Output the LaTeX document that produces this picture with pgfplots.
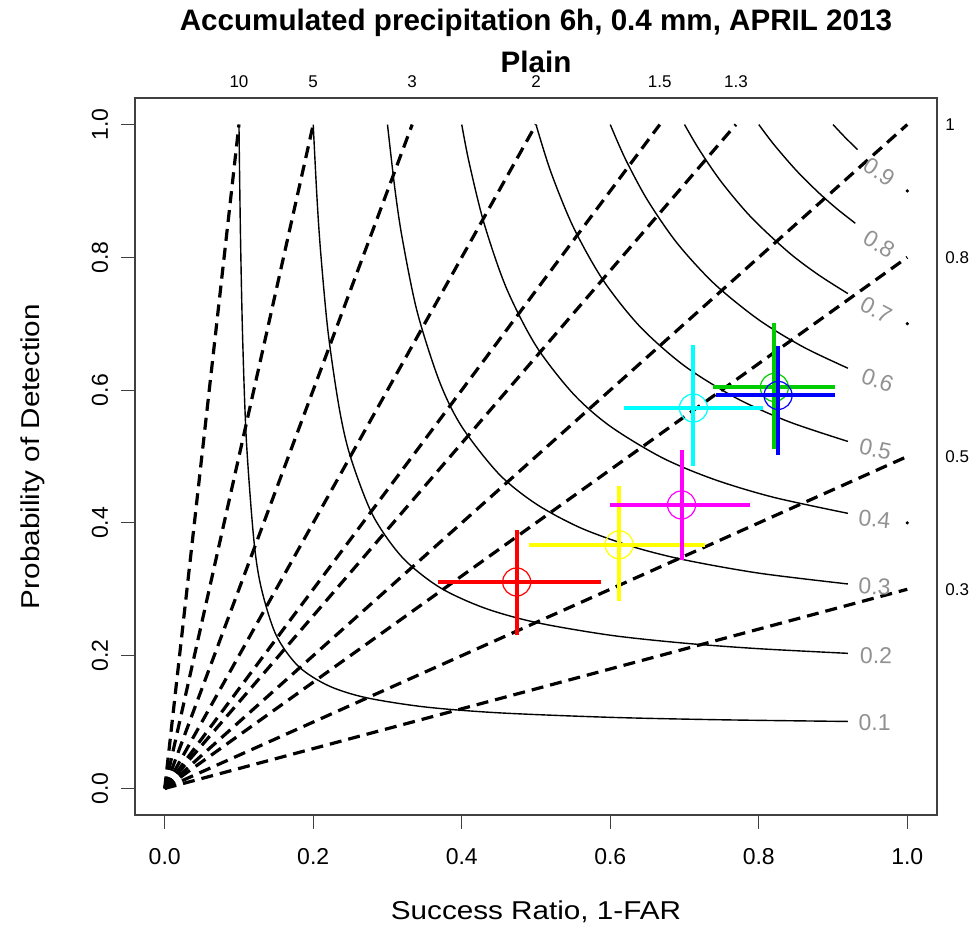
\documentclass[border=0pt]{standalone}
\usepackage{pgfplots}
\pgfplotsset{compat=1.18}
\usepackage{fontspec}
\setmainfont{Liberation Sans}
\newfontfamily\labfont[FakeStretch=1.15]{Liberation Sans}
\definecolor{csigray}{RGB}{145,145,145}
\definecolor{rgreen}{RGB}{0,205,0}
\definecolor{pmagenta}{RGB}{255,0,255}
\definecolor{pcyan}{RGB}{0,255,255}
\definecolor{pyellow}{RGB}{255,255,0}
\definecolor{pblue}{RGB}{0,0,255}
\definecolor{pred}{RGB}{255,0,0}
\begin{document}
\begin{tikzpicture}
\begin{axis}[
  scale only axis, width=401pt, height=358.5pt,
  xmin=-0.04, xmax=1.04, ymin=-0.04, ymax=1.04,
  axis line style={line width=0.8pt, black!75},
  xtick={0,0.2,0.4,0.6,0.8,1}, ytick={0,0.2,0.4,0.6,0.8,1},
  xticklabels={}, yticklabels={},
  tick align=outside, major tick length=7pt,
  xtick pos=bottom, ytick pos=left,
  tick style={black!75, line width=0.6pt},
  clip mode=individual,
  font=\fontsize{11.5}{13}\selectfont,
]
% bias lines
\addplot[black, line width=1.6pt, dash pattern=on 6pt off 3.5pt] coordinates {(0,0) (1,0.3)};
\addplot[black, line width=1.6pt, dash pattern=on 6pt off 3.5pt] coordinates {(0,0) (1,0.5)};
\addplot[black, line width=1.6pt, dash pattern=on 6pt off 3.5pt] coordinates {(0,0) (1,0.8)};
\addplot[black, line width=1.6pt, dash pattern=on 6pt off 3.5pt] coordinates {(0,0) (1,1)};
\addplot[black, line width=1.6pt, dash pattern=on 6pt off 3.5pt] coordinates {(0,0) (0.7692,1)};
\addplot[black, line width=1.6pt, dash pattern=on 6pt off 3.5pt] coordinates {(0,0) (0.6667,1)};
\addplot[black, line width=1.6pt, dash pattern=on 6pt off 3.5pt] coordinates {(0,0) (0.5,1)};
\addplot[black, line width=1.6pt, dash pattern=on 6pt off 3.5pt] coordinates {(0,0) (0.3333,1)};
\addplot[black, line width=1.6pt, dash pattern=on 6pt off 3.5pt] coordinates {(0,0) (0.2,1)};
\addplot[black, line width=1.6pt, dash pattern=on 6pt off 3.5pt] coordinates {(0,0) (0.1,1)};
% CSI curves
\addplot[black, line width=0.7pt, smooth] coordinates {(0.1,1.0) (0.102,0.836) (0.105,0.677) (0.11,0.524) (0.12,0.375) (0.13,0.302) (0.15,0.231) (0.18,0.184) (0.22,0.155) (0.27,0.137) (0.35,0.1228) (0.45,0.1139) (0.6,0.1071) (0.75,0.1034) (0.92,0.1009)};
\addplot[black, line width=0.7pt, smooth] coordinates {(0.2,1.0) (0.205,0.891) (0.21,0.808) (0.22,0.6875) (0.235,0.573) (0.25,0.5) (0.28,0.412) (0.32,0.348) (0.37,0.303) (0.43,0.272) (0.5,0.25) (0.6,0.2308) (0.7,0.2188) (0.8,0.2105) (0.92,0.2035)};
\addplot[black, line width=0.7pt, smooth] coordinates {(0.3,1.0) (0.31,0.903) (0.32,0.828) (0.34,0.718) (0.37,0.613) (0.4,0.545) (0.45,0.4737) (0.5,0.4286) (0.56,0.3925) (0.63,0.3642) (0.7,0.3443) (0.8,0.3243) (0.92,0.308)};
\addplot[black, line width=0.7pt, smooth] coordinates {(0.4,1.0) (0.41,0.9425) (0.43,0.8515) (0.46,0.754) (0.5,0.6667) (0.55,0.5946) (0.6,0.5455) (0.67,0.4981) (0.74,0.4654) (0.82,0.4385) (0.92,0.4144)};
\addplot[black, line width=0.7pt, smooth] coordinates {(0.5,1.0) (0.52,0.9286) (0.55,0.8462) (0.59,0.7662) (0.64,0.6957) (0.7,0.6364) (0.77,0.5878) (0.84,0.5526) (0.92,0.5227)};
\addplot[black, line width=0.7pt, smooth] coordinates {(0.6,1.0) (0.62,0.949) (0.65,0.8864) (0.69,0.8214) (0.74,0.7603) (0.8,0.7059) (0.86,0.6649) (0.92,0.633)};
\addplot[black, line width=0.7pt, smooth] coordinates {(0.7,1.0) (0.72,0.9618) (0.75,0.913) (0.79,0.86) (0.84,0.8077) (0.88,0.7739) (0.92,0.7454)};
\addplot[black, line width=0.7pt, smooth] coordinates {(0.8,1.0) (0.82,0.9704) (0.85,0.9315) (0.88,0.898) (0.905,0.8733) (0.93,0.8513)};
\addplot[black, line width=0.7pt, smooth] coordinates {(0.9,1.0) (0.915,0.9821) (0.933,0.9622)};
% small dots
\addplot[only marks, mark=*, mark size=0.6pt, black] coordinates {(1,0.9) (1,0.7) (1,0.4)};
% CSI labels
\node[csigray, inner sep=0.5pt, rotate=0] at (axis cs:0.956,0.099) {0.1};
\node[csigray, inner sep=0.5pt, rotate=-1] at (axis cs:0.958,0.2) {0.2};
\node[csigray, inner sep=0.5pt, rotate=-3] at (axis cs:0.956,0.304) {0.3};
\node[csigray, inner sep=0.5pt, rotate=-6] at (axis cs:0.956,0.406) {0.4};
\node[csigray, inner sep=0.5pt, rotate=-12] at (axis cs:0.957,0.511) {0.5};
\node[csigray, inner sep=0.5pt, rotate=-20] at (axis cs:0.96,0.615) {0.6};
\node[csigray, inner sep=0.5pt, rotate=-28] at (axis cs:0.958,0.721) {0.7};
\node[csigray, inner sep=0.5pt, rotate=-31] at (axis cs:0.962,0.82) {0.8};
\node[csigray, inner sep=0.5pt, rotate=-33] at (axis cs:0.962,0.929) {0.9};
% data points with error bars
\addplot[pred, only marks, mark=o, mark size=7pt, mark options={line width=0.6pt},
  error bars/.cd, x dir=both, y dir=both, x explicit, y explicit,
  error bar style={line width=2pt}, error mark=none]
  table[x=x, y=y, x error plus=xp, x error minus=xm, y error plus=yp, y error minus=ym] {
x y xp xm yp ym
0.474 0.311 0.114 0.106 0.079 0.080
};
\addplot[pyellow, only marks, mark=o, mark size=7pt, mark options={line width=0.6pt},
  error bars/.cd, x dir=both, y dir=both, x explicit, y explicit,
  error bar style={line width=2pt}, error mark=none]
  table[x=x, y=y, x error plus=xp, x error minus=xm, y error plus=yp, y error minus=ym] {
x y xp xm yp ym
0.612 0.367 0.115 0.121 0.089 0.085
};
\addplot[pmagenta, only marks, mark=o, mark size=7pt, mark options={line width=0.6pt},
  error bars/.cd, x dir=both, y dir=both, x explicit, y explicit,
  error bar style={line width=2pt}, error mark=none]
  table[x=x, y=y, x error plus=xp, x error minus=xm, y error plus=yp, y error minus=ym] {
x y xp xm yp ym
0.696 0.427 0.092 0.097 0.083 0.0825
};
\addplot[pcyan, only marks, mark=o, mark size=7pt, mark options={line width=0.6pt},
  error bars/.cd, x dir=both, y dir=both, x explicit, y explicit,
  error bar style={line width=2pt}, error mark=none]
  table[x=x, y=y, x error plus=xp, x error minus=xm, y error plus=yp, y error minus=ym] {
x y xp xm yp ym
0.712 0.573 0.094 0.093 0.095 0.088
};
\addplot[rgreen, only marks, mark=o, mark size=7pt, mark options={line width=0.6pt},
  error bars/.cd, x dir=both, y dir=both, x explicit, y explicit,
  error bar style={line width=2pt}, error mark=none]
  table[x=x, y=y, x error plus=xp, x error minus=xm, y error plus=yp, y error minus=ym] {
x y xp xm yp ym
0.821 0.604 0.081 0.082 0.097 0.092
};
\addplot[pblue, only marks, mark=o, mark size=7pt, mark options={line width=0.6pt},
  error bars/.cd, x dir=both, y dir=both, x explicit, y explicit,
  error bar style={line width=2pt}, error mark=none]
  table[x=x, y=y, x error plus=xp, x error minus=xm, y error plus=yp, y error minus=ym] {
x y xp xm yp ym
0.826 0.592 0.077 0.084 0.075 0.090
};
% tick labels
\node at ([yshift=-21pt]axis cs:0,-0.04) {0.0};
\node at ([yshift=-21pt]axis cs:0.2,-0.04) {0.2};
\node at ([yshift=-21pt]axis cs:0.4,-0.04) {0.4};
\node at ([yshift=-21pt]axis cs:0.6,-0.04) {0.6};
\node at ([yshift=-21pt]axis cs:0.8,-0.04) {0.8};
\node at ([yshift=-21pt]axis cs:1,-0.04) {1.0};
\node[rotate=90] at ([xshift=-17.5pt]axis cs:-0.04,0) {0.0};
\node[rotate=90] at ([xshift=-17.5pt]axis cs:-0.04,0.2) {0.2};
\node[rotate=90] at ([xshift=-17.5pt]axis cs:-0.04,0.4) {0.4};
\node[rotate=90] at ([xshift=-17.5pt]axis cs:-0.04,0.6) {0.6};
\node[rotate=90] at ([xshift=-17.5pt]axis cs:-0.04,0.8) {0.8};
\node[rotate=90] at ([xshift=-17.5pt]axis cs:-0.04,1) {1.0};
% axis labels
\node[font=\labfont\fontsize{12.9}{15}\selectfont] at ([yshift=-48.5pt]axis cs:0.5,-0.04) {Success Ratio, 1-FAR};
\node[font=\labfont\fontsize{12.9}{15}\selectfont, rotate=90] at ([xshift=-51pt]axis cs:-0.04,0.5) {Probability of Detection};
% title
\node[font=\fontsize{14.8}{17}\selectfont\bfseries, inner sep=0pt] at ([yshift=37.5pt]axis cs:0.5,1.04) {Accumulated precipitation 6h, 0.4 mm, APRIL 2013};
\node[font=\fontsize{14.8}{17}\selectfont\bfseries, inner sep=0pt] at ([yshift=18pt]axis cs:0.5,1.04) {Plain};
% bias labels top
\node[font=\fontsize{8.5}{10}\selectfont] at ([yshift=8pt]axis cs:0.1,1.04) {10};
\node[font=\fontsize{8.5}{10}\selectfont] at ([yshift=8pt]axis cs:0.2,1.04) {5};
\node[font=\fontsize{8.5}{10}\selectfont] at ([yshift=8pt]axis cs:0.3333,1.04) {3};
\node[font=\fontsize{8.5}{10}\selectfont] at ([yshift=8pt]axis cs:0.5,1.04) {2};
\node[font=\fontsize{8.5}{10}\selectfont] at ([yshift=8pt]axis cs:0.6667,1.04) {1.5};
\node[font=\fontsize{8.5}{10}\selectfont] at ([yshift=8pt]axis cs:0.7692,1.04) {1.3};
% bias labels right
\node[font=\fontsize{8.5}{10}\selectfont, anchor=west, inner sep=0pt] at ([xshift=4pt]axis cs:1.04,1) {1};
\node[font=\fontsize{8.5}{10}\selectfont, anchor=west, inner sep=0pt] at ([xshift=4pt]axis cs:1.04,0.8) {0.8};
\node[font=\fontsize{8.5}{10}\selectfont, anchor=west, inner sep=0pt] at ([xshift=4pt]axis cs:1.04,0.5) {0.5};
\node[font=\fontsize{8.5}{10}\selectfont, anchor=west, inner sep=0pt] at ([xshift=4pt]axis cs:1.04,0.3) {0.3};
\end{axis}
\pgfresetboundingbox
\path[use as bounding box] (-67.5pt,-58.5pt) rectangle (420.5pt,407.5pt);
\end{tikzpicture}
\end{document}
